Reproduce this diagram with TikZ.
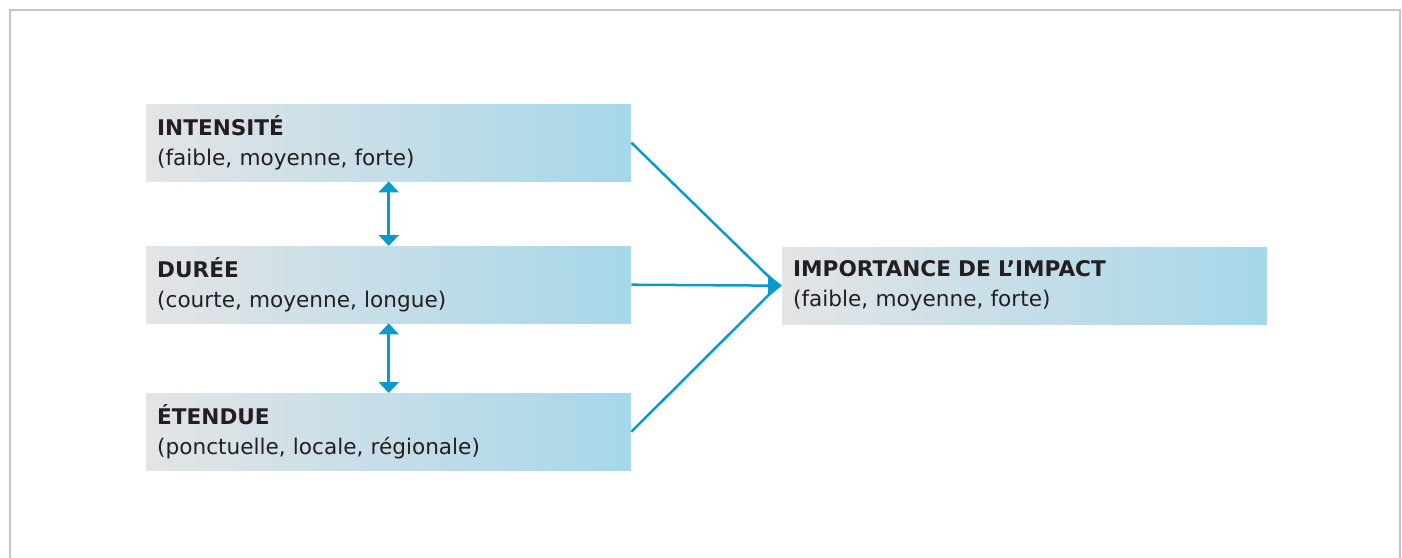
\documentclass[tikz,border=0pt]{standalone}
\usepackage{fontspec}
\setmainfont{DejaVu Sans}
\usetikzlibrary{arrows.meta}
\definecolor{framegray}{HTML}{C4C4C8}
\definecolor{boxgray}{HTML}{E3E4E6}
\definecolor{boxmid}{HTML}{D8E0E6}
\definecolor{boxblue}{HTML}{A6D7EA}
\definecolor{linkblue}{HTML}{0A9ACB}
\definecolor{txt}{HTML}{231F20}
\tikzset{
  factor/.style={draw=none, left color=boxgray, middle color=boxmid, right color=boxblue,
    shading angle=90, minimum width=485pt, minimum height=77pt, text width=463pt,
    inner xsep=11pt, inner ysep=0pt, align=left, anchor=north west, text=txt,
    font=\fontsize{21.6}{29.5}\selectfont},
  plainlink/.style={draw=linkblue, line width=2.5pt},
  link/.style={draw=linkblue, line width=2.5pt, -{Triangle[length=14pt,width=22pt]}},
  biarrow/.style={draw=linkblue, line width=2.5pt, {Triangle[length=11pt,width=20pt]}-{Triangle[length=11pt,width=20pt]}}
}
\begin{document}
\begin{tikzpicture}[x=1pt,y=-1pt]
\useasboundingbox (0,0) rectangle (1402,557);
\draw[framegray, line width=2.5pt] (10,560) -- (10,10) -- (1400,10) -- (1400,560);
\node[factor] (int) at (146,104) {\textbf{INTENSITÉ}\\(faible, moyenne, forte)};
\node[factor] (dur) at (146,246) {\textbf{DURÉE}\\(courte, moyenne, longue)};
\node[factor] (eten) at (146,393) {\textbf{ÉTENDUE}\\(ponctuelle, locale, régionale)};
\node[factor] (imp) at (782,247) {\textbf{IMPORTANCE DE L’IMPACT}\\(faible, moyenne, forte)};
\draw[biarrow] (int.south) -- (dur.north);
\draw[biarrow] (dur.south) -- (eten.north);
\draw[plainlink] (int.east) -- ([xshift=-4pt]imp.west);
\draw[plainlink] (eten.east) -- ([xshift=-4pt]imp.west);
\draw[link] (dur.east) -- (imp.west);
\end{tikzpicture}
\end{document}
